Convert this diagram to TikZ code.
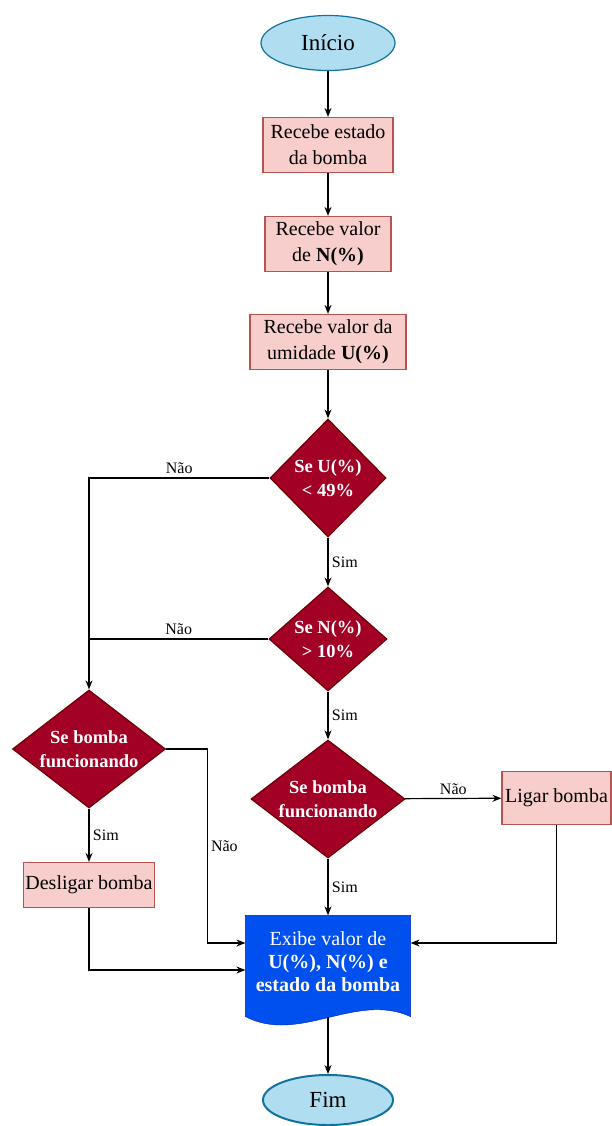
\documentclass[tikz,border=0pt]{standalone}
\usepackage{fontspec}
\setmainfont{Liberation Serif}
\usetikzlibrary{shapes.geometric,arrows.meta,backgrounds}
\definecolor{rosa}{HTML}{F8CECC}
\definecolor{rosaborda}{HTML}{B85450}
\definecolor{vinho}{HTML}{A20025}
\definecolor{vinhoborda}{HTML}{6F0000}
\definecolor{azulclaro}{HTML}{B1DDF0}
\definecolor{azulborda}{HTML}{10739E}
\definecolor{azul}{HTML}{0050EF}
\definecolor{azulescuro}{HTML}{001DBC}

\begin{document}
\begin{tikzpicture}[x=1pt,y=-1pt,>={Stealth[length=9pt,width=7pt]},line width=1.2pt,
    terminal/.style={ellipse,draw=azulborda,fill=azulclaro,inner sep=0pt,
        font=\fontsize{23}{28}\selectfont},
    caixa/.style={rectangle,draw=rosaborda,fill=rosa,align=center,inner sep=2pt,
        font=\fontsize{20}{26}\selectfont},
    decisao/.style={diamond,draw=vinhoborda,fill=vinho,inner sep=0pt},
    dtexto/.style={text=white,align=center,font=\bfseries\fontsize{18.5}{24}\selectfont},
    documento/.style={rectangle,text=white,align=center,minimum width=164pt,
        minimum height=92pt,font=\fontsize{20}{23}\selectfont},
    rotulo/.style={font=\fontsize{16}{19}\selectfont}]
    \useasboundingbox (0,0) rectangle (612,1126);

    \node[terminal,minimum width=134pt,minimum height=55pt] (inicio) at (328,43) {Início};
    \node[caixa,minimum width=130pt,minimum height=55pt] (recEstado) at (328,145) {Recebe estado\\da bomba};
    \node[caixa,minimum width=126pt,minimum height=55pt] (recN) at (328,244) {Recebe valor\\de \textbf{N(\%)}};
    \node[caixa,minimum width=156pt,minimum height=55pt] (recU) at (328,342) {Recebe valor da\\umidade \textbf{U(\%)}};

    \node[decisao,minimum width=116pt,minimum height=118pt] (seU) at (328,478) {};
    \node[dtexto] (tU) at (seU) {Se U(\%)\\\textless{} 49\%};
    \node[decisao,minimum width=118pt,minimum height=104pt] (seN) at (328,639) {};
    \node[dtexto] (tN) at (seN) {Se N(\%)\\\textgreater{} 10\%};

    \node[decisao,minimum width=153pt,minimum height=118pt] (bombaE) at (89,749) {};
    \node[dtexto] (tE) at (bombaE) {Se bomba\\funcionando};
    \node[decisao,minimum width=154pt,minimum height=118pt] (bombaD) at (328,799) {};
    \node[dtexto] (tD) at (bombaD) {Se bomba\\funcionando};

    \node[caixa,minimum width=131pt,minimum height=45pt] (desligar) at (89,885) {Desligar bomba};
    \node[caixa,minimum width=109pt,minimum height=53pt] (ligar) at (556.5,798) {Ligar bomba};

    \node[documento] (exibe) at (328,962) {Exibe valor de\\\textbf{U(\%), N(\%) e}\\\textbf{estado da bomba}};
    \begin{scope}[on background layer]
        \filldraw[draw=azulescuro,fill=azul] (exibe.north west) -- (exibe.north east) -- ([yshift=-8pt]exibe.south east)
            .. controls +(-55,-25) and +(54,28) .. ([yshift=-8pt]exibe.south west) -- cycle;
    \end{scope}

    \node[terminal,line width=2pt,minimum width=130pt,minimum height=50pt] (fim) at (328,1100) {Fim};

    \draw[->] (inicio) -- (recEstado);
    \draw[->] (recEstado) -- (recN);
    \draw[->] (recN) -- (recU);
    \draw[->] (recU) -- (seU);
    \draw[->] (seU) -- node[rotulo,right] {Sim} (seN);
    \draw[->] (seU.west) -| node[rotulo,above,pos=0.25] {Não} (bombaE.north);
    \draw (seN.west) -- node[rotulo,above] {Não} (seN.west -| bombaE.north);
    \draw[->] (seN) -- node[rotulo,right] {Sim} (bombaD);
    \draw[->] (bombaE) -- node[rotulo,right] {Sim} (desligar);
    \draw[->] (bombaE.east) -- ++(41,0) |- node[rotulo,right,pos=0.25] {Não} ([yshift=19pt]exibe.west);
    \draw[->] (desligar) |- ([yshift=-8pt]exibe.west);
    \draw[->] (bombaD) -- node[rotulo,above] {Não} (ligar);
    \draw[->] (ligar) |- ([yshift=19pt]exibe.east);
    \draw[->] (bombaD) -- node[rotulo,right] {Sim} (exibe);
    \draw[->] ([yshift=-8pt]exibe.south) -- (fim);
\end{tikzpicture}
\end{document}
